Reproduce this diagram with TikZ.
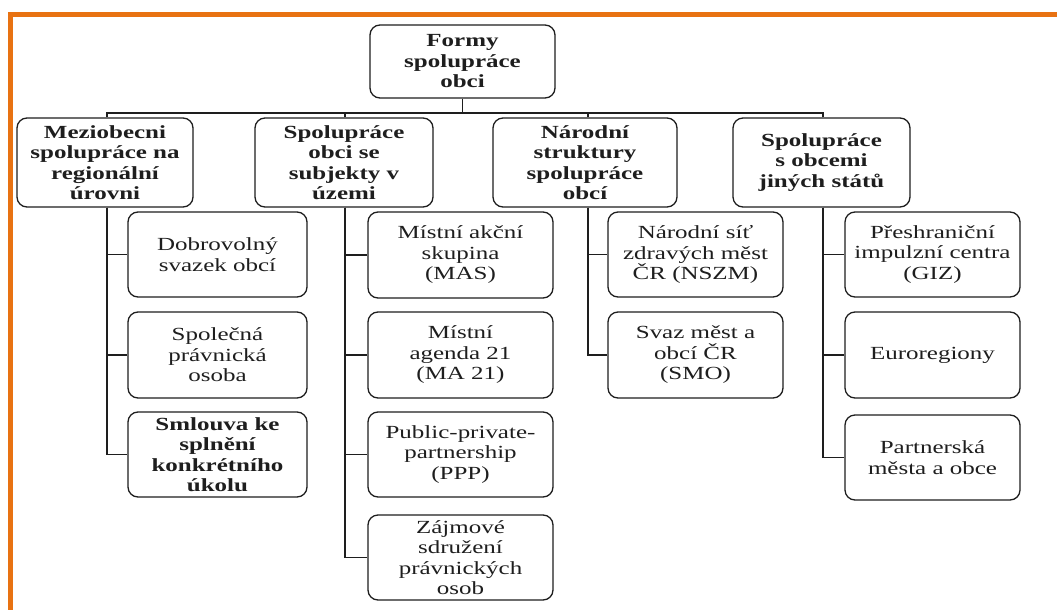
\documentclass[tikz,border=0pt]{standalone}
\usepackage{fontspec}
\setmainfont{Liberation Serif}[FakeStretch=1.35]
\definecolor{frame}{RGB}{232,114,18}
\definecolor{ink}{RGB}{30,30,30}
\begin{document}
\begin{tikzpicture}[x=1pt,y=-1pt,
 box/.style={draw=ink, line width=1.3pt, rounded corners=10pt, align=center, inner sep=0pt, text=ink,
   font=\fontsize{18.5}{20.5}\selectfont},
 hbox/.style={box, font=\fontsize{18.5}{20.5}\selectfont\bfseries},
 link/.style={draw=ink, line width=1.4pt}]
\useasboundingbox (0,0) rectangle (1057,610);
\fill[white] (0,0) rectangle (1057,610);
\fill[frame] (7.5,12.5) rectangle (1057,17);
\fill[frame] (7.5,12.5) rectangle (13,610);

% root
\node[hbox, minimum width=185pt, minimum height=73pt] (root) at (462.5,61.5) {Formy\\spolupráce\\obci};

% level 1
\node[hbox, minimum width=176pt, minimum height=89pt] (A) at (105,162.5) {Meziobecni\\spolupráce na\\regionální\\úrovni};
\node[hbox, minimum width=178pt, minimum height=89pt] (B) at (344,162.5) {Spolupráce\\obci se\\subjekty v\\územi};
\node[hbox, minimum width=184pt, minimum height=89pt] (C) at (585,162.5) {Národní\\struktury\\spolupráce\\obcí};
\node[hbox, minimum width=177pt, minimum height=89pt] (D) at (821.5,162.5) {Spolupráce\\s obcemi\\jiných států};

% children of A
\node[box, minimum width=179pt, minimum height=85pt] (A1) at (217.5,254.5) {Dobrovolný\\svazek obcí};
\node[box, minimum width=179pt, minimum height=86pt] (A2) at (217.5,355) {Společná\\právnická\\osoba};
\node[hbox, minimum width=179pt, minimum height=85pt] (A3) at (217.5,454.5) {Smlouva ke\\splnění\\konkrétního\\úkolu};

% children of B
\node[box, minimum width=185pt, minimum height=86pt] (B1) at (460.5,255) {Místní akční\\skupina\\(MAS)};
\node[box, minimum width=185pt, minimum height=86pt] (B2) at (460.5,355) {Místní\\agenda 21\\(MA 21)};
\node[box, minimum width=185pt, minimum height=85pt] (B3) at (460.5,454.5) {Public-private-\\partnership\\(PPP)};
\node[box, minimum width=185pt, minimum height=85pt] (B4) at (460.5,557.5) {Zájmové\\sdružení\\právnických\\osob};

% children of C
\node[box, minimum width=175pt, minimum height=85pt] (C1) at (695.5,254.5) {Národní síť\\zdravých měst\\ČR (NSZM)};
\node[box, minimum width=175pt, minimum height=86pt] (C2) at (695.5,355) {Svaz měst a\\obcí ČR\\(SMO)};

% children of D
\node[box, minimum width=175pt, minimum height=85pt] (D1) at (932.5,254.5) {Přeshraniční\\impulzní centra\\(GIZ)};
\node[box, minimum width=175pt, minimum height=86pt] (D2) at (932.5,355) {Euroregiony};
\node[box, minimum width=175pt, minimum height=85pt] (D3) at (932.5,457.5) {Partnerská\\města a obce};

% connectors
\coordinate (bus) at (462.5,113);
\draw[link] (root.south) -- (bus);
\draw[link] ([xshift=2pt]A.north) |- (bus);
\draw[link] ([xshift=1pt]B.north) |- (bus);
\draw[link] ([xshift=3pt]C.north) |- (bus);
\draw[link] ([xshift=1.5pt]D.north) |- (bus);

\foreach \k in {A1,A2,A3} \draw[link] ([xshift=2pt]A.south) |- (\k.west);
\foreach \k in {B1,B2,B3,B4} \draw[link] ([xshift=1pt]B.south) |- (\k.west);
\foreach \k in {C1,C2} \draw[link] ([xshift=3pt]C.south) |- (\k.west);
\foreach \k in {D1,D2,D3} \draw[link] ([xshift=1.5pt]D.south) |- (\k.west);
\end{tikzpicture}
\end{document}
